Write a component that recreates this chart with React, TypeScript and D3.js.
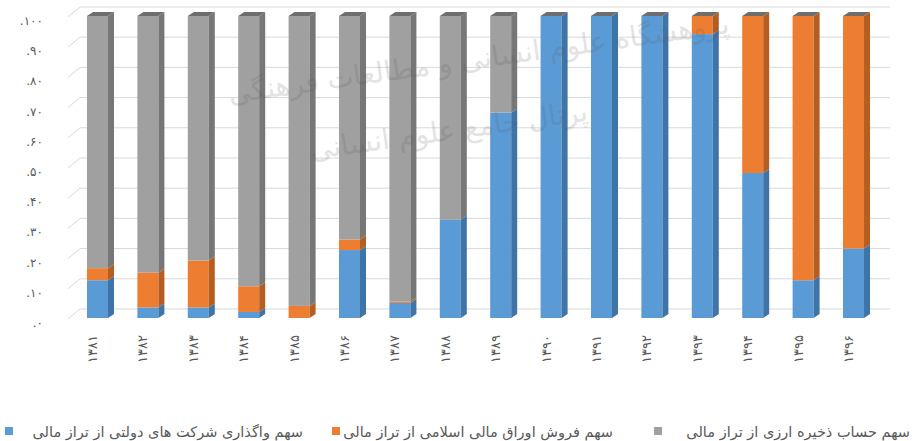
import React from "react";
import * as d3 from "d3";

// سال‌ها (محور افقی)
const years = [
  "۱۳۸۱", "۱۳۸۲", "۱۳۸۳", "۱۳۸۴", "۱۳۸۵", "۱۳۸۶", "۱۳۸۷", "۱۳۸۸",
  "۱۳۸۹", "۱۳۹۰", "۱۳۹۱", "۱۳۹۲", "۱۳۹۳", "۱۳۹۴", "۱۳۹۵", "۱۳۹۶",
];

// values (percent of the fiscal balance)
const blueShare = [12.5, 3.5, 3.5, 2, 0, 22.5, 5, 32.5, 68, 100, 100, 100, 94, 48, 12.5, 23];
const orangeShare = [4, 11.5, 15.5, 8.5, 4, 3.5, 0.5, 0, 0, 0, 0, 0, 6, 52, 87.5, 77];
const grayShare = [83.5, 85, 81, 89.5, 96, 74, 94.5, 67.5, 32, 0, 0, 0, 0, 0, 0, 0];

const yTicks = [0, 10, 20, 30, 40, 50, 60, 70, 80, 90, 100];

const seriesNames = [
  "سهم واگذاری شرکت های دولتی از تراز مالی",
  "سهم فروش اوراق مالی اسلامی از تراز مالی",
  "سهم حساب ذخیره ارزی از تراز مالی",
];
const frontColors = ["#5b9bd5", "#ed7d31", "#a0a0a0"];
const sideColors = ["#3f74a8", "#b65e22", "#777777"];

const W = 914;
const H = 441;
const faFont = "'DejaVu Sans', sans-serif";

const toFa = (s: string) => s.replace(/\d/g, (d) => "۰۱۲۳۴۵۶۷۸۹"[+d]);

const App = () => {
  const x = d3.scaleBand<string>().domain(years).range([57.6, 893.4]).padding(0.583);
  const y = d3.scaleLinear().domain([0, 100]).range([318, 16]);
  const bw = x.bandwidth();
  const dx = 6;
  const dy = 4;
  const wallDx = 12;
  const wallDy = 9;

  const rows = years.map((yr, i) => ({
    year: yr,
    blue: blueShare[i],
    orange: orangeShare[i],
    gray: grayShare[i],
  }));
  const keys = ["blue", "orange", "gray"];
  const stacked = d3.stack<any>().keys(keys)(rows);

  const gridLeft = 68;
  const gridRight = 890;

  return (
    <svg
      width={W}
      height={H}
      style={{ position: "absolute", left: 0, top: 0, background: "#fff" }}
    >
      {/* back wall gridlines */}
      <g stroke="#d9d9d9" strokeWidth={1}>
        {yTicks.map((t) => (
          <g key={t}>
            <line x1={gridLeft + wallDx} x2={gridRight} y1={y(t) - wallDy} y2={y(t) - wallDy} />
            <line x1={gridLeft} x2={gridLeft + wallDx} y1={y(t) + 1} y2={y(t) - wallDy} />
          </g>
        ))}
      </g>

      {/* y axis labels */}
      <g fontFamily={faFont} fontSize={12} fill="#595959" textAnchor="end">
        {yTicks.map((t) => (
          <text key={t} x={43} y={y(t) + 9} direction="ltr">
            {"." + toFa(String(t))}
          </text>
        ))}
      </g>

      {/* 3d stacked bars */}
      {years.map((yr, i) => {
        const x0 = x(yr) as number;
        return (
          <g key={yr}>
            {stacked.map((s, k) => {
              const [v0, v1] = s[i];
              if (v1 - v0 <= 0) return null;
              const yt = y(v1);
              const yb = y(v0);
              return (
                <g key={k}>
                  <rect x={x0} y={yt} width={bw} height={yb - yt} fill={frontColors[k]} />
                  <polygon
                    points={`${x0 + bw},${yt} ${x0 + bw + dx},${yt - dy} ${x0 + bw + dx},${yb - dy} ${x0 + bw},${yb}`}
                    fill={sideColors[k]}
                  />
                </g>
              );
            })}
            <polygon
              points={`${x0},${y(100)} ${x0 + bw},${y(100)} ${x0 + bw + dx},${y(100) - dy} ${x0 + dx},${y(100) - dy}`}
              fill="#6e6e6e"
            />
          </g>
        );
      })}

      {/* watermark over the plot */}
      <g fill="#555" opacity={0.16} fontFamily={faFont}>
        <text x={480} y={68} fontSize={28} textAnchor="middle" transform="rotate(-8 480 68)">
          پژوهشگاه علوم انسانی و مطالعات فرهنگی
        </text>
        <text x={450} y={140} fontSize={28} textAnchor="middle" transform="rotate(-8 450 140)">
          پرتال جامع علوم انسانی
        </text>
      </g>

      {/* x axis labels */}
      <g fontFamily={faFont} fontSize={13} fill="#595959">
        {years.map((yr) => {
          const cx = (x(yr) as number) + bw / 2 - 4;
          const cy = 335;
          return (
            <text
              key={yr}
              x={cx}
              y={cy}
              transform={`rotate(-90 ${cx} ${cy})`}
              textAnchor="end"
              dominantBaseline="middle"
              letterSpacing={3}
            >
              {yr}
            </text>
          );
        })}
      </g>

      {/* legend */}
      <g fontFamily={faFont} fontSize={14.5} fill="#595959">
        {[
          { mark: 5, textEnd: 303 },
          { mark: 332, textEnd: 613 },
          { mark: 654, textEnd: 910 },
        ].map((p, k) => (
          <g key={k}>
            <rect x={p.mark} y={427} width={8} height={8} fill={frontColors[k]} />
            <text x={p.textEnd} y={437} textAnchor="end">
              {seriesNames[k]}
            </text>
          </g>
        ))}
      </g>
    </svg>
  );
};

export default App;
